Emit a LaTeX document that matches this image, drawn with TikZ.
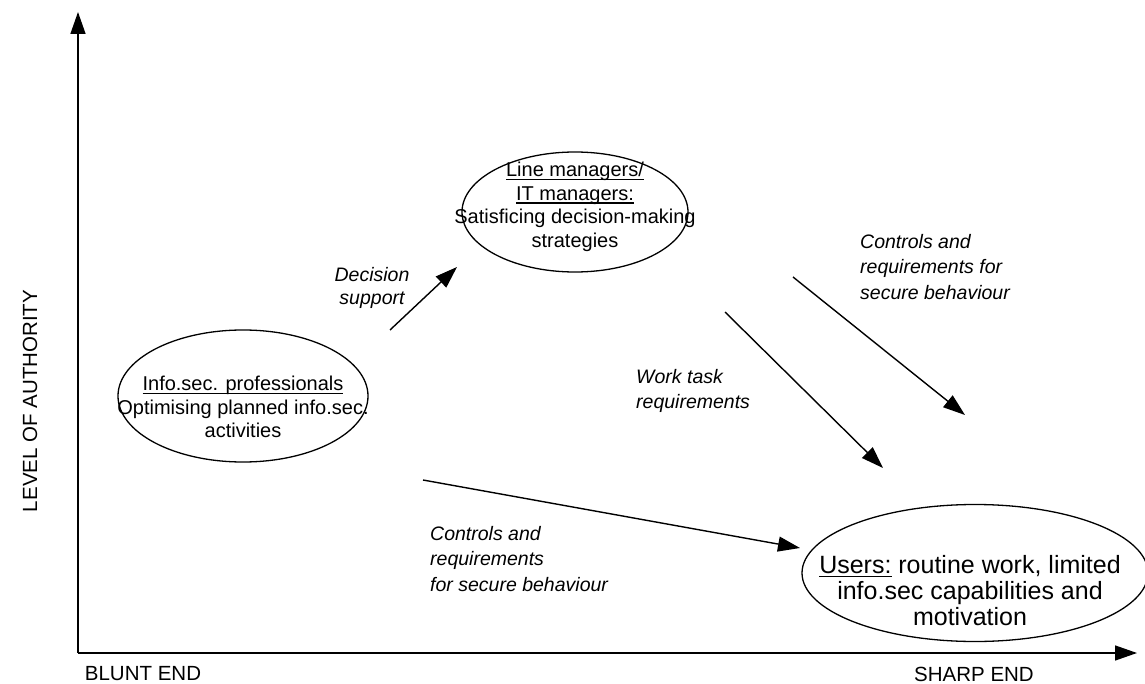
\documentclass[tikz,border=0pt]{standalone}
\usepackage{fontspec}
\setmainfont{Liberation Sans}
\usetikzlibrary{arrows.meta,shapes.geometric}
% underline placed just under the baseline
\newcommand{\ulbox}[1]{\setbox0\hbox{#1}\rlap{\vrule height -2pt depth 3.4pt width \wd0}\box0{}}

\begin{document}
\begin{tikzpicture}[x=1pt,y=-1pt,
  bubble/.style={draw, ellipse, line width=1.3pt, inner sep=0pt},
  bubbletext/.style={align=center, inner sep=0pt, font=\fontsize{20}{23.5}\selectfont},
  note/.style={align=left, inner sep=0pt, anchor=north west, font=\fontsize{19.5}{25.5}\selectfont\itshape},
  axislabel/.style={inner sep=0pt, font=\fontsize{20.5}{22}\selectfont},
  axis/.style={line width=1.4pt, -{Triangle[length=22pt,width=15pt]}},
  flow/.style={line width=1.4pt, -{Triangle[length=22pt,width=15pt]}}]
\useasboundingbox (0,0) rectangle (1145,684);

% axes
\coordinate (origin) at (78,653);
\coordinate (ytop) at (78,12);
\coordinate (xend) at (1137,653);
\draw[axis] (origin) -- (ytop);
\draw[axis] (origin) -- (xend);
\node[axislabel, rotate=90] (yl) at (30,401) {LEVEL OF AUTHORITY};
\node[axislabel] (blunt) at (143,674) {BLUNT END};
\node[axislabel] (sharp) at (974,674) {SHARP END};

% actors
\node[bubble, minimum width=250pt, minimum height=132pt] (info) at (243,396) {};
\node[bubbletext] (infot) at (243,407)
  {\ulbox{Info.sec. professionals}\\Optimising planned info.sec.\\activities};

\node[bubble, minimum width=226pt, minimum height=120pt] (lm) at (575,212) {};
\node[bubbletext] (lmt) at (575,207)
  {\ulbox{Line managers/}\\\ulbox{IT managers:}\\Satisficing decision-making\\strategies};

\node[bubble, minimum width=346pt, minimum height=137pt] (users) at (975,573) {};
\node[bubbletext, font=\fontsize{25}{26}\selectfont] (userst) at (970,591)
  {\ulbox{Users:} routine work, limited\\info.sec capabilities and\\motivation};

% influences
\coordinate (ds0) at (390,330);
\coordinate (ds1) at (457,267);
\draw[flow] (ds0) -- (ds1);
\node[note, align=center, anchor=center, font=\fontsize{19.5}{23.5}\selectfont\itshape] (dsl) at (372,288) {Decision\\support};

\coordinate (iu0) at (423,480);
\coordinate (iu1) at (800,548);
\draw[flow] (iu0) -- (iu1);
\node[note] (iul) at (430,526) {Controls and\\requirements\\for secure behaviour};

\coordinate (wt0) at (725,312);
\coordinate (wt1) at (883,468);
\draw[flow] (wt0) -- (wt1);
\node[note] (wtl) at (636,369) {Work task\\requirements};

\coordinate (cr0) at (793,277);
\coordinate (cr1) at (965,415);
\draw[flow] (cr0) -- (cr1);
\node[note] (crl) at (860,234) {Controls and\\requirements for\\secure behaviour};
\end{tikzpicture}
\end{document}
